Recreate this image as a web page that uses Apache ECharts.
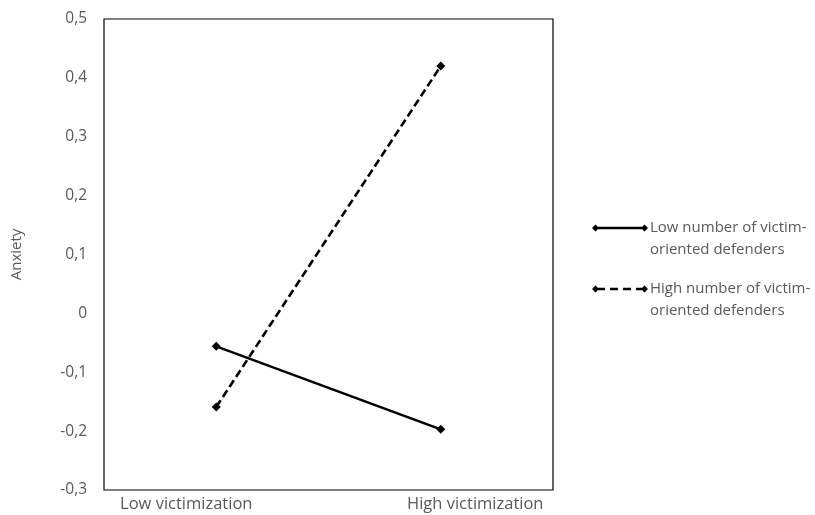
<!DOCTYPE html>
<html>
<head>
<meta charset="utf-8">
<script src="https://cdn.jsdelivr.net/npm/echarts@6/dist/echarts.min.js"></script>
<style>
  html, body { margin: 0; padding: 0; background: #fff; }
  #chart { width: 815px; height: 515px; }
</style>
</head>
<body>
<div id="chart"></div>
<script>
// values
const categories = ['Low victimization', 'High victimization']
const lowDefenders = [-0.056, -0.197]
const highDefenders = [-0.159, 0.42]
const seriesNames = ['Low number of victim-oriented defenders', 'High number of victim-oriented defenders']
const legendLines = {
  'Low number of victim-oriented defenders': ['Low number of victim-', 'oriented defenders'],
  'High number of victim-oriented defenders': ['High number of victim-', 'oriented defenders']
}

const gray = '#595959'
const font = 'Open Sans'

// legend icons: line with a diamond at each end
const solidIcon = 'path://M0,3.5L3.5,0L7,3.5L3.5,7ZM49,3.5L52.5,0L56,3.5L52.5,7ZM3.5,2.2L52.5,2.2L52.5,4.8L3.5,4.8Z'
const dashedIcon = 'path://M0,3.5L3.5,0L7,3.5L3.5,7ZM49,3.5L52.5,0L56,3.5L52.5,7Z' +
  'M5,2.2L13,2.2L13,4.8L5,4.8ZM18,2.2L26,2.2L26,4.8L18,4.8ZM31,2.2L39,2.2L39,4.8L31,4.8ZM44,2.2L51,2.2L51,4.8L44,4.8Z'

function legendFor(name, icon, top) {
  return {
    data: [{ name: name, icon: icon }],
    left: 592,
    top: top,
    padding: 0,
    itemWidth: 56,
    itemHeight: 7,
    itemGap: 0,
    selectedMode: false,
    itemStyle: { color: '#000', borderWidth: 0 },
    // blank first line keeps the icon level with the first text line
    formatter: n => ' \n' + legendLines[n].join('\n'),
    textStyle: { color: gray, fontFamily: font, fontSize: 15, lineHeight: 22, padding: [0, 0, 0, -3] }
  }
}

const chart = echarts.init(document.getElementById('chart'))
chart.setOption({
  animation: false,
  legend: [
    legendFor(seriesNames[0], solidIcon, 195),
    legendFor(seriesNames[1], dashedIcon, 256)
  ],
  grid: {
    show: true,
    left: 104,
    top: 19,
    width: 449,
    height: 471,
    borderColor: '#000',
    borderWidth: 1.2,
    containLabel: false
  },
  xAxis: {
    type: 'category',
    data: categories,
    boundaryGap: true,
    axisLine: { show: false },
    axisTick: { show: false },
    axisLabel: {
      margin: 6,
      color: gray,
      fontFamily: font,
      fontSize: 16.5,
      formatter: (v, i) => i === 0 ? '{l|' + v + '}' : '{r|' + v + '}',
      rich: {
        l: { padding: [0, 60, 0, 0], color: gray, fontFamily: font, fontSize: 16.5 },
        r: { padding: [0, 0, 0, 69], color: gray, fontFamily: font, fontSize: 16.5 }
      }
    }
  },
  yAxis: {
    type: 'value',
    min: -0.3,
    max: 0.5,
    interval: 0.1,
    name: 'Anxiety',
    nameLocation: 'middle',
    nameRotate: 90,
    nameGap: 80,
    nameTextStyle: { color: gray, fontFamily: font, fontSize: 15 },
    axisLine: { show: false },
    axisTick: { show: false },
    splitLine: { show: false },
    axisLabel: {
      margin: 17,
      color: gray,
      fontFamily: font,
      fontSize: 15.5,
      formatter: v => String(+v.toFixed(1)).replace('.', ',')
    }
  },
  series: [
    {
      name: seriesNames[0],
      type: 'line',
      data: lowDefenders,
      symbol: 'diamond',
      symbolSize: 9,
      itemStyle: { color: '#000' },
      lineStyle: { color: '#000', width: 2.6 }
    },
    {
      name: seriesNames[1],
      type: 'line',
      data: highDefenders,
      symbol: 'diamond',
      symbolSize: 9,
      itemStyle: { color: '#000' },
      lineStyle: { color: '#000', width: 2.6, type: [8, 4] }
    }
  ]
})
</script>
</body>
</html>
